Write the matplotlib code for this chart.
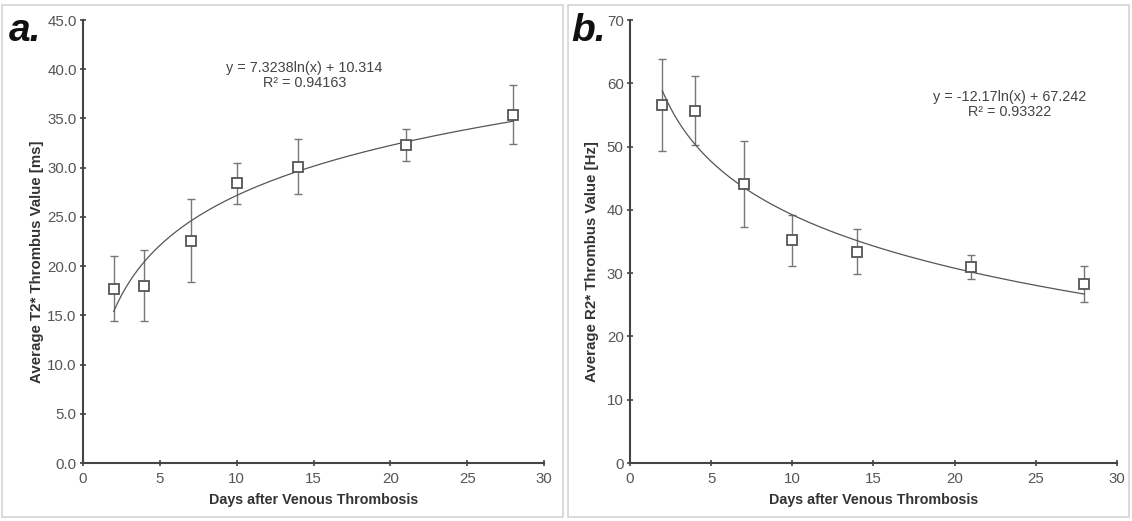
import matplotlib.pyplot as plt
import numpy as np
from matplotlib.patches import Rectangle

plt.rcParams['font.family'] = ['Liberation Sans', 'DejaVu Sans']

days = [2, 4, 7, 10, 14, 21, 28]

# T2* thrombus values (ms) with standard deviations
t2_mean = [17.7, 18.0, 22.6, 28.4, 30.1, 32.3, 35.4]
t2_err = [3.3, 3.6, 4.2, 2.1, 2.8, 1.65, 3.0]
t2_fit = (7.3238, 10.314)
t2_r2 = "0.94163"

# R2* thrombus values (Hz) with standard deviations
r2_mean = [56.6, 55.7, 44.1, 35.2, 33.4, 30.9, 28.3]
r2_err = [7.3, 5.4, 6.8, 4.0, 3.5, 1.9, 2.9]
r2_fit = (-12.17, 67.242)
r2_r2 = "0.93322"

fig = plt.figure(figsize=(11.32, 5.21), dpi=100)

# light frames around each panel
for x0 in (0.002, 0.502):
    fig.patches.append(Rectangle((x0, 0.008), 0.495, 0.982, transform=fig.transFigure,
                                 fill=False, edgecolor='#d4d4d4', linewidth=1.2))

ax1 = fig.add_axes([0.0733, 0.1113, 0.4073, 0.8503])
ax2 = fig.add_axes([0.5565, 0.1113, 0.4302, 0.8503])


def draw_panel(ax, y, yerr, fit, r2, ylim, yticks, fmt, ylabel, ylabel_x, eq_xy, eq_text):
    xs = np.linspace(min(days), max(days), 200)
    ax.plot(xs, fit[0] * np.log(xs) + fit[1], color='#555555', linewidth=0.9, zorder=2)
    ax.errorbar(days, y, yerr=yerr, fmt='none', ecolor='#777777', elinewidth=1.0,
                capsize=3, capthick=1.0, zorder=1)
    ax.plot(days, y, 's', markersize=7.5, markerfacecolor='white',
            markeredgecolor='#555555', markeredgewidth=1.3, zorder=3)
    ax.set_xlim(0, 30)
    ax.set_ylim(*ylim)
    ax.set_xticks(range(0, 31, 5))
    ax.set_yticks(yticks)
    ax.set_yticklabels([fmt.format(v) for v in yticks])
    for side in ('top', 'right'):
        ax.spines[side].set_visible(False)
    for side in ('left', 'bottom'):
        ax.spines[side].set_color('#444444')
        ax.spines[side].set_linewidth(1.5)
    ax.tick_params(direction='inout', length=5, width=1.2, color='#444444', pad=4,
                   labelsize=10.8, labelcolor='#555555')
    ax.tick_params(axis='y', pad=2)
    ax.set_xlabel('Days after Venous Thrombosis', fontsize=10.3, fontweight='bold',
                  color='#333333', labelpad=5)
    ax.set_ylabel(ylabel, fontsize=10.8, fontweight='bold', color='#333333')
    ax.yaxis.set_label_coords(ylabel_x, 0.454)
    ax.text(eq_xy[0], eq_xy[1], eq_text + "\nR\u00b2 = " + r2, ha='center', va='center',
            fontsize=10.4, color='#444444', linespacing=1.1)


draw_panel(ax1, t2_mean, t2_err, t2_fit, t2_r2, (0, 45), np.arange(0, 45.1, 5), '{:.1f}',
           'Average T2* Thrombus Value [ms]', -0.085, (14.4, 39.4),
           'y = 7.3238ln(x) + 10.314')
draw_panel(ax2, r2_mean, r2_err, r2_fit, r2_r2, (0, 70), np.arange(0, 71, 10), '{:.0f}',
           'Average R2* Thrombus Value [Hz]', -0.064, (23.4, 56.7),
           'y = -12.17ln(x) + 67.242')

fig.text(0.008, 0.922, 'a.', fontsize=28, fontweight='bold', fontstyle='italic', color='#111111')
fig.text(0.505, 0.922, 'b.', fontsize=28, fontweight='bold', fontstyle='italic', color='#111111')

fig.savefig('out.png', dpi=100, facecolor='white')
